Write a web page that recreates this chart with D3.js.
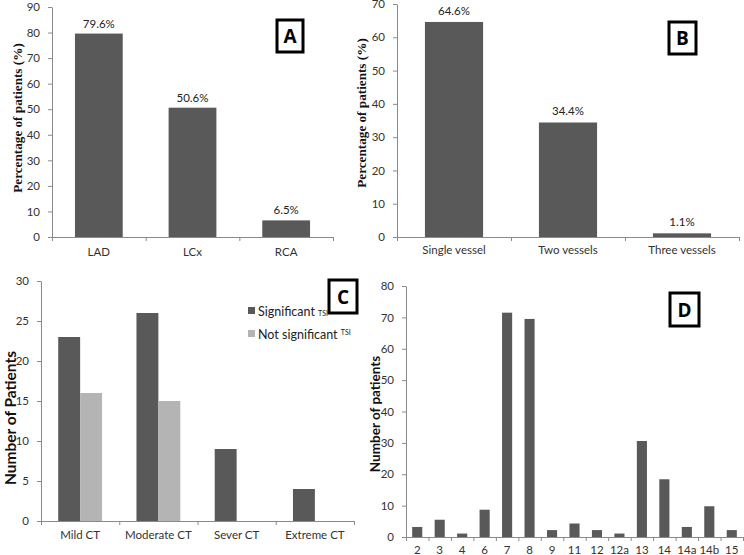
<!DOCTYPE html>
<html><head><meta charset="utf-8">
<script src="https://cdn.jsdelivr.net/npm/d3@7/dist/d3.min.js"></script>
<style>
html,body{margin:0;padding:0;background:#fff;}
svg{display:block;}
.tick text{font-family:Lato,"Open Sans",sans-serif;font-size:11.5px;fill:#333;}
</style></head>
<body>
<script>
// ---------- data ----------
const catsA = ["LAD", "LCx", "RCA"];
const valsA = [79.6, 50.6, 6.5];
const labelsA = ["79.6%", "50.6%", "6.5%"];
const ticksA = [0, 10, 20, 30, 40, 50, 60, 70, 80, 90];

const catsB = ["Single vessel", "Two vessels", "Three vessels"];
const valsB = [64.6, 34.4, 1.1];
const labelsB = ["64.6%", "34.4%", "1.1%"];
const ticksB = [0, 10, 20, 30, 40, 50, 60, 70];

const catsC = ["Mild CT", "Moderate CT", "Sever CT", "Extreme CT"];
const sigC = [23, 26, 9, 4];
const notSigC = [16, 15, 0, 0];
const seriesC = ["Significant", "Not significant"];
const ticksC = [0, 5, 10, 15, 20, 25, 30];

const catsD = ["2", "3", "4", "6", "7", "8", "9", "11", "12", "12a", "13", "14", "14a", "14b", "15"];
const valsD = [3.2, 5.5, 1.1, 8.7, 71.5, 69.5, 2.2, 4.3, 2.2, 1.1, 30.6, 18.4, 3.2, 9.8, 2.2];
const ticksD = [0, 10, 20, 30, 40, 50, 60, 70, 80];

// ---------- layout ----------
const W = 744, H = 555;
const DARK = "#595959", LIGHT = "#b4b4b4", AXIS = "#8a8a8a";

const svg = d3.select("body").append("svg").attr("width", W).attr("height", H);

function axes(g, xs, xn, y, yTop, y0, ticks) {
  const ya = g.append("g").attr("transform", `translate(${xs[0]},0)`)
    .call(d3.axisLeft(y).tickValues(ticks).tickSize(4).tickSizeOuter(0).tickPadding(8));
  ya.select(".domain").attr("stroke", AXIS);
  ya.selectAll(".tick line").attr("stroke", AXIS);
  const xl = d3.scaleLinear().domain([0, xn]).range(xs);
  const xa = g.append("g").attr("transform", `translate(0,${y0})`)
    .call(d3.axisBottom(xl).tickValues(d3.range(xn + 1)).tickFormat("").tickSize(4).tickSizeOuter(0));
  xa.select(".domain").attr("stroke", AXIS);
  xa.selectAll(".tick line").attr("stroke", AXIS);
}

function catAxis(g, x, y0, pad) {
  const ca = g.append("g").attr("transform", `translate(0,${y0})`)
    .call(d3.axisBottom(x).tickSize(0).tickPadding(pad));
  ca.select(".domain").remove();
}

function letterBox(g, x, y, w, h, t) {
  g.append("rect").attr("x", x).attr("y", y).attr("width", w).attr("height", h)
    .attr("fill", "#fff").attr("stroke", "#000").attr("stroke-width", 3);
  g.append("text").attr("x", x + w / 2).attr("y", y + h / 2 + 7).attr("text-anchor", "middle")
    .attr("font-family", "'Open Sans',sans-serif").attr("font-weight", "bold").attr("font-size", 19)
    .text(t);
}

function yTitle(g, cx, cy, t, serif, size) {
  g.append("text").attr("transform", `translate(${cx},${cy}) rotate(-90)`)
    .attr("text-anchor", "middle")
    .attr("font-family", serif ? "'Liberation Serif',serif" : "Lato,'Open Sans',sans-serif")
    .attr("font-weight", "bold").attr("font-size", size).attr("fill", "#111").text(t);
}

// ---------- Panel A ----------
(function () {
  const g = svg.append("g");
  const xs = [52, 333], y0 = 237, yTop = 7;
  const x = d3.scaleBand().domain(catsA).range(xs).paddingInner(0.49).paddingOuter(0.245);
  const y = d3.scaleLinear().domain([0, 90]).range([y0, yTop]);
  axes(g, xs, catsA.length, y, yTop, y0, ticksA);
  g.selectAll(".bar").data(valsA).join("rect")
    .attr("x", (d, i) => x(catsA[i])).attr("width", x.bandwidth())
    .attr("y", d => y(d)).attr("height", d => y0 - y(d)).attr("fill", DARK);
  g.selectAll(".vl").data(valsA).join("text")
    .attr("x", (d, i) => x(catsA[i]) + x.bandwidth() / 2).attr("y", d => y(d) - 6)
    .attr("text-anchor", "middle").attr("font-family", "Lato,sans-serif").attr("font-size", 11.5).attr("fill", "#222")
    .text((d, i) => labelsA[i]);
  catAxis(g, x, y0, 11);
  yTitle(g, 22, 118, "Percentage of patients (%)", true, 13.2);
  letterBox(g, 277, 20, 26, 32, "A");
})();

// ---------- Panel B ----------
(function () {
  const g = svg.append("g");
  const xs = [397, 739], y0 = 237, yTop = 4;
  const x = d3.scaleBand().domain(catsB).range(xs).paddingInner(0.49).paddingOuter(0.245);
  const y = d3.scaleLinear().domain([0, 70]).range([y0, yTop]);
  axes(g, xs, catsB.length, y, yTop, y0, ticksB);
  g.selectAll(".bar").data(valsB).join("rect")
    .attr("x", (d, i) => x(catsB[i])).attr("width", x.bandwidth())
    .attr("y", d => y(d)).attr("height", d => y0 - y(d)).attr("fill", DARK);
  g.selectAll(".vl").data(valsB).join("text")
    .attr("x", (d, i) => x(catsB[i]) + x.bandwidth() / 2).attr("y", d => y(d) - 7)
    .attr("text-anchor", "middle").attr("font-family", "Lato,sans-serif").attr("font-size", 11.5).attr("fill", "#222")
    .text((d, i) => labelsB[i]);
  catAxis(g, x, y0, 9);
  yTitle(g, 366, 113, "Percentage of patients (%)", true, 13.2);
  letterBox(g, 669, 22, 27, 32, "B");
})();

// ---------- Panel C ----------
(function () {
  const g = svg.append("g");
  const xs = [41, 354], y0 = 521, yTop = 281;
  const x = d3.scaleBand().domain(catsC).range(xs).paddingInner(0.44).paddingOuter(0.22);
  const xi = d3.scaleBand().domain(seriesC).range([0, x.bandwidth()]);
  const y = d3.scaleLinear().domain([0, 30]).range([y0, yTop]);
  axes(g, xs, catsC.length, y, yTop, y0, ticksC);
  const series = [sigC, notSigC];
  const cols = [DARK, LIGHT];
  series.forEach((vals, s) => {
    g.selectAll(".bar" + s).data(vals).join("rect")
      .attr("x", (d, i) => x(catsC[i]) + xi(seriesC[s])).attr("width", xi.bandwidth())
      .attr("y", d => y(d)).attr("height", d => y0 - y(d)).attr("fill", cols[s]);
  });
  catAxis(g, x, y0, 10);
  yTitle(g, 16, 418, "Number of Patients", false, 15.5);
  const lg = g.append("g").attr("font-family", "Lato,sans-serif").attr("fill", "#222");
  seriesC.forEach((s, i) => {
    const ly = 311 + i * 23;
    lg.append("rect").attr("x", 248).attr("y", ly - 4).attr("width", 7).attr("height", 7).attr("fill", cols[i]);
    const t = lg.append("text").attr("x", 258).attr("y", ly + 4.5).attr("font-size", 12.5);
    t.append("tspan").text(s + " ");
    t.append("tspan").attr("font-size", 7).attr("dy", i === 0 ? 0 : -4).text("TSI");
  });
  letterBox(g, 329, 280, 28, 33, "C");
})();

// ---------- Panel D ----------
(function () {
  const g = svg.append("g");
  const xs = [406, 743], y0 = 537, yTop = 286;
  const x = d3.scaleBand().domain(catsD).range(xs).paddingInner(0.55).paddingOuter(0.275);
  const y = d3.scaleLinear().domain([0, 80]).range([y0, yTop]);
  axes(g, xs, catsD.length, y, yTop, y0, ticksD);
  g.selectAll(".bar").data(valsD).join("rect")
    .attr("x", (d, i) => x(catsD[i])).attr("width", x.bandwidth())
    .attr("y", d => y(d)).attr("height", d => y0 - y(d)).attr("fill", DARK);
  catAxis(g, x, y0, 9);
  yTitle(g, 380, 414, "Number of patients", false, 13.5);
  letterBox(g, 670, 293, 29, 33, "D");
})();
</script>
</body></html>
